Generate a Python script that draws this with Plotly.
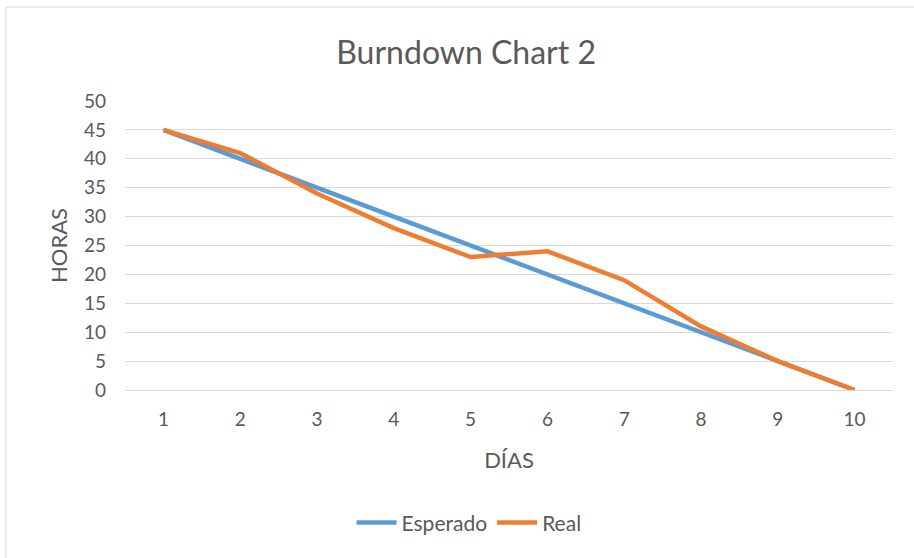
import plotly.graph_objects as go

dias = [1, 2, 3, 4, 5, 6, 7, 8, 9, 10]
esperado = [45, 40, 35, 30, 25, 20, 15, 10, 5, 0]
real = [45, 41, 34, 28, 23, 24, 19, 11, 5, 0]

GRAY = '#595959'
FONT = 'Lato, Carlito, Calibri, sans-serif'

fig = go.Figure()
fig.add_trace(go.Scatter(x=dias, y=esperado, mode='lines', name='Esperado',
                         line={'color': '#5B9BD5', 'width': 4.5}))
fig.add_trace(go.Scatter(x=dias, y=real, mode='lines', name='Real',
                         line={'color': '#ED7D31', 'width': 4.5}))

# chart area border, like the excel chart frame
fig.add_shape(type='rect', xref='paper', yref='paper',
              x0=-0.155, x1=1.2, y0=-1.0, y1=1.325,
              line={'color': '#D9D9D9', 'width': 1}, layer='below')

fig.update_layout(
    width=914,
    height=558,
    margin={'l': 125, 'r': 21, 't': 101, 'b': 168},
    paper_bgcolor='white',
    plot_bgcolor='white',
    font={'family': FONT, 'color': GRAY, 'size': 19},
    title={'text': 'Burndown Chart 2', 'x': 0.51, 'xanchor': 'center',
           'y': 0.906, 'yanchor': 'middle',
           'font': {'size': 32, 'color': GRAY, 'family': FONT}},
    xaxis={
        'range': [0.5, 10.5],
        'tickmode': 'array',
        'tickvals': dias,
        'ticktext': [str(d) for d in dias],
        'showgrid': False,
        'zeroline': False,
        'showline': True,
        'linecolor': '#D9D9D9',
        'ticks': '',
        'ticklabelstandoff': 12,
        'title': {'text': 'DÍAS', 'font': {'size': 22, 'color': GRAY}, 'standoff': 23},
        'fixedrange': True,
    },
    yaxis={
        'range': [0, 50],
        'dtick': 5,
        'showgrid': True,
        'gridcolor': '#D9D9D9',
        'gridwidth': 1,
        'zeroline': False,
        'showline': False,
        'ticks': '',
        'ticklabelstandoff': 18,
        'title': {'text': 'HORAS', 'font': {'size': 22, 'color': GRAY}, 'standoff': 10},
        'fixedrange': True,
    },
    legend={'orientation': 'h', 'x': 0.448, 'xanchor': 'center', 'y': -0.46,
            'yanchor': 'middle', 'font': {'size': 21, 'color': GRAY},
            'itemwidth': 40},
    showlegend=True,
)

# page body margin would shift the chart off the window origin
fig.write_html('out.html', config={'displayModeBar': False},
               post_script="document.body.style.margin='0';")
